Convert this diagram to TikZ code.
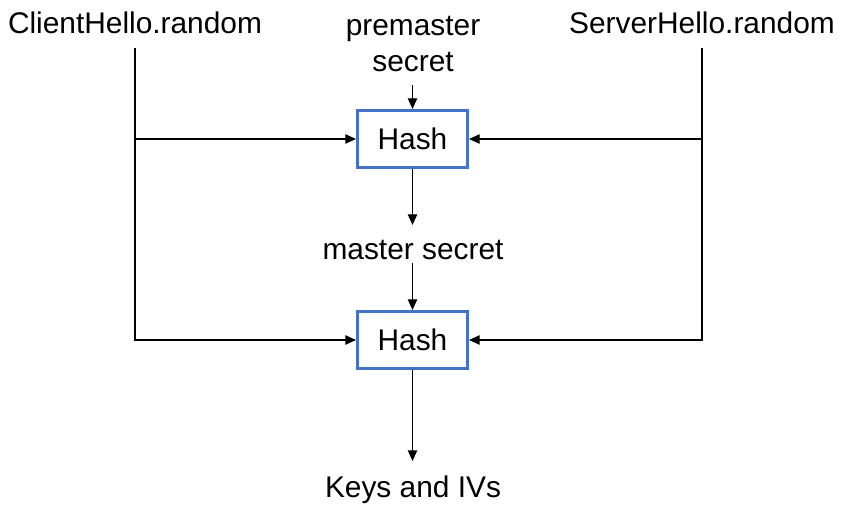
\documentclass[tikz,border=0pt]{standalone}
\usepackage{fontspec}
\setmainfont{Liberation Sans}
\usetikzlibrary{arrows.meta,calc}
\definecolor{boxblue}{HTML}{4472C4}
\begin{document}
\begin{tikzpicture}[x=0.75pt,y=-0.75pt,
  txt/.style={inner sep=0pt,font=\fontsize{22.4}{27}\selectfont},
  hashbox/.style={draw=boxblue,line width=2.25pt,minimum width=82.5pt,minimum height=42.75pt,inner sep=0pt,font=\fontsize{22.4}{27}\selectfont},
  arr/.style={line width=1pt,-{Triangle[length=8pt,width=7pt]}},
  ln/.style={line width=1pt}]
\useasboundingbox (0,0) rectangle (842,516);
\node[txt,anchor=base] (ch) at (135,34) {ClientHello.random};
\node[txt,anchor=base] (sh) at (702,34) {ServerHello.random};
\node[txt,anchor=base] (pm) at (413,36) {premaster};
\node[txt,anchor=base] (sec) at (413,72) {secret};
\node[hashbox] (h1) at (412.5,139) {Hash};
\node[txt,anchor=base] (ms) at (413,260) {master secret};
\node[hashbox] (h2) at (412.5,340) {Hash};
\node[txt,anchor=base] (keys) at (413,497) {Keys and IVs};
\coordinate (cl) at (135,48);
\coordinate (cr) at (702,48);
% inputs to first hash
\draw[arr] ($(h1.north |- sec.base)+(0,13)$) -- (h1.north);
\draw[arr] (cl |- h1.west) -- (h1.west);
\draw[arr] (cr |- h1.east) -- (h1.east);
% side lines to second hash
\draw[arr] (cl) |- (h2.west);
\draw[arr] (cr) |- (h2.east);
% main chain
\draw[arr] (h1.south) -- ($(h1.south |- ms.base)+(0,-35)$);
\draw[arr] ($(h2.north |- ms.base)+(0,3)$) -- (h2.north);
\draw[arr] (h2.south) -- ($(h2.south |- keys.base)+(0,-36)$);
\end{tikzpicture}
\end{document}
